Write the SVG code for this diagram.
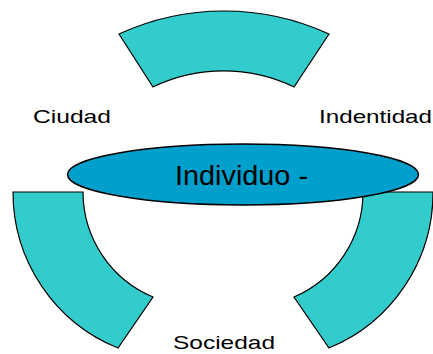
<svg xmlns="http://www.w3.org/2000/svg" width="433" height="354" viewBox="0 0 433 354">
<style>
.seg{fill:#33CCCC;stroke:#000;stroke-width:1.2;stroke-linejoin:miter}
.lbl{font-family:"Liberation Sans",Arial,sans-serif;font-size:19px;fill:#000}
.main{font-family:"Liberation Sans",Arial,sans-serif;font-size:28px;fill:#000}
</style>
<rect width="433" height="354" fill="#fff"/>
<g id="top-arc"><path class="seg" d="M119,34 A251,251 0 0 1 329,34 L294,87 A163,163 0 0 0 153,87 Z"/></g>
<g id="left-arc"><path class="seg" d="M13,192 L83,192 A114,114 0 0 0 153,297 L118,348 A168,168 0 0 1 13,192 Z"/></g>
<g id="right-arc"><path class="seg" d="M433,192 L363,192 A114,114 0 0 1 294,297 L329,348 A168,168 0 0 0 433,192 Z"/></g>
<g id="individuo"><ellipse cx="243" cy="174.5" rx="175.5" ry="30.5" fill="#009FCC" stroke="#000" stroke-width="1.5"/>
<text class="main" x="175" y="185" textLength="133" lengthAdjust="spacingAndGlyphs">Individuo -</text></g>
<g id="labels">
<text class="lbl" x="33" y="123" textLength="78" lengthAdjust="spacingAndGlyphs">Ciudad</text>
<text class="lbl" x="319" y="123" textLength="113" lengthAdjust="spacingAndGlyphs">Indentidad</text>
<text class="lbl" x="173" y="349" textLength="102" lengthAdjust="spacingAndGlyphs">Sociedad</text>
</g>
<g id="connectors"/>
</svg>
